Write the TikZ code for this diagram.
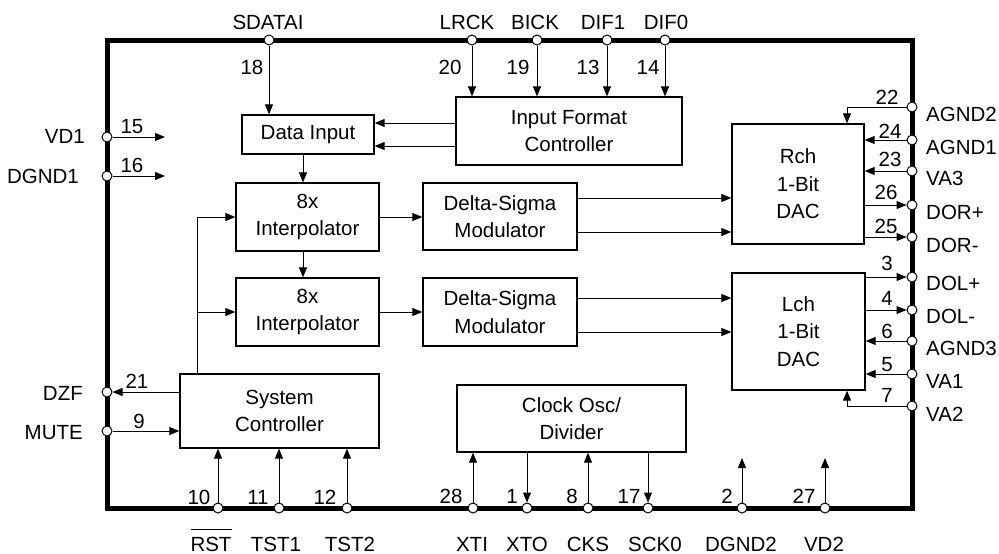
\documentclass[tikz,border=0pt]{standalone}
\usepackage{fontspec}
\setmainfont{Liberation Sans}
\usetikzlibrary{arrows.meta}
\newcommand{\diagfont}{\fontsize{20.5}{27.5}\selectfont}
\begin{document}
\begin{tikzpicture}[x=1pt,y=-1pt,
  box/.style={draw, line width=1.3pt, align=center, inner sep=0pt, font=\diagfont},
  pinc/.style={circle, draw, fill=white, line width=1pt, minimum size=10pt, inner sep=0pt},
  wire/.style={line width=1pt},
  arr/.style={wire, -{Triangle[length=10pt,width=8pt]}},
  lab/.style={font=\diagfont, inner sep=0pt},
  num/.style={font=\diagfont, inner sep=0pt, anchor=base}
]
\useasboundingbox (0,0) rectangle (999,554);
% chip border
\draw[line width=5pt] (107,40) rectangle (912,508);

% pins: top
\node[pinc] (pSD) at (269,40) {};
\node[pinc] (pLR) at (472,40) {};
\node[pinc] (pBI) at (537,40) {};
\node[pinc] (pD1) at (607,40) {};
\node[pinc] (pD0) at (665,40) {};
% pins: left
\node[pinc] (pVD1) at (107,137) {};
\node[pinc] (pDG1) at (107,176) {};
\node[pinc] (pDZF) at (107,392) {};
\node[pinc] (pMUTE) at (107,431) {};
% pins: right
\node[pinc] (pAG2) at (912,107) {};
\node[pinc] (pAG1) at (912,140) {};
\node[pinc] (pVA3) at (912,171) {};
\node[pinc] (pDORp) at (912,205) {};
\node[pinc] (pDORm) at (912,237) {};
\node[pinc] (pDOLp) at (912,277) {};
\node[pinc] (pDOLm) at (912,310) {};
\node[pinc] (pAG3) at (912,341) {};
\node[pinc] (pVA1) at (912,374) {};
\node[pinc] (pVA2) at (912,406) {};
% pins: bottom
\node[pinc] (pRST) at (218,508) {};
\node[pinc] (pT1) at (279,508) {};
\node[pinc] (pT2) at (347,508) {};
\node[pinc] (pXTI) at (473,508) {};
\node[pinc] (pXTO) at (527,508) {};
\node[pinc] (pCKS) at (588,508) {};
\node[pinc] (pSCK) at (648,508) {};
\node[pinc] (pDG2) at (742,508) {};
\node[pinc] (pVD2) at (825,508) {};

% blocks
\node[box, minimum width=132pt, minimum height=39pt] (datain) at (308,134.5) {Data Input};
\node[box, minimum width=226pt, minimum height=68pt] (ifc) at (569,131) {Input Format\\Controller};
\node[box, minimum width=143pt, minimum height=68pt] (int1) at (307.5,217) {8x\\Interpolator};
\node[box, minimum width=143pt, minimum height=68pt] (int2) at (307.5,312) {8x\\Interpolator};
\node[box, minimum width=154pt, minimum height=67pt] (ds1) at (500,216.5) {Delta-Sigma\\Modulator};
\node[box, minimum width=154pt, minimum height=68pt] (ds2) at (500,312) {Delta-Sigma\\Modulator};
\node[box, minimum width=132pt, minimum height=120pt] (dacR) at (798,184) {Rch\\1-Bit\\DAC};
\node[box, minimum width=133pt, minimum height=117pt] (dacL) at (798.5,331.5) {Lch\\1-Bit\\DAC};
\node[box, minimum width=199pt, minimum height=74pt] (sysc) at (279.5,411) {System\\Controller};
\node[box, minimum width=229pt, minimum height=67pt] (clk) at (571.5,418.5) {Clock Osc/\\Divider};

% free ends
\coordinate (eVD1) at (165,137);
\coordinate (eDG1) at (165,176);
\coordinate (eDG2) at (742,458);
\coordinate (eVD2) at (825,458);

% top connections
\draw[arr] (pSD) -- (pSD |- datain.north);
\draw[arr] (pLR) -- (pLR |- ifc.north);
\draw[arr] (pBI) -- (pBI |- ifc.north);
\draw[arr] (pD1) -- (pD1 |- ifc.north);
\draw[arr] (pD0) -- (pD0 |- ifc.north);
\draw[arr] (ifc.west |- 0,123) -- (datain.east |- 0,123);
\draw[arr] (ifc.west |- 0,146) -- (datain.east |- 0,146);
% data path
\draw[arr] (datain.south -| 303,0) -- (int1.north -| 303,0);
\draw[arr] (int1.south -| 303,0) -- (int2.north -| 303,0);
\draw[arr] (int1.east) -- (int1.east -| ds1.west);
\draw[arr] (int2.east) -- (int2.east -| ds2.west);
\draw[arr] (sysc.north -| 197,0) |- (int1.west);
\draw[arr] (int2.west -| 197,0) -- (int2.west);
\draw[arr] (ds1.east |- 0,198) -- (dacR.west |- 0,198);
\draw[arr] (ds1.east |- 0,232) -- (dacR.west |- 0,232);
\draw[arr] (ds2.east |- 0,298) -- (dacL.west |- 0,298);
\draw[arr] (ds2.east |- 0,332) -- (dacL.west |- 0,332);
% right side
\draw[arr] (pAG2) -| (dacR.north -| 847,0);
\draw[arr] (pAG1) -- (pAG1 -| dacR.east);
\draw[arr] (pVA3) -- (pVA3 -| dacR.east);
\draw[arr] (dacR.east |- pDORp) -- (pDORp);
\draw[arr] (dacR.east |- pDORm) -- (pDORm);
\draw[arr] (dacL.east |- pDOLp) -- (pDOLp);
\draw[arr] (dacL.east |- pDOLm) -- (pDOLm);
\draw[arr] (pAG3) -- (pAG3 -| dacL.east);
\draw[arr] (pVA1) -- (pVA1 -| dacL.east);
\draw[arr] (pVA2) -| (dacL.south -| 847,0);
% left side
\draw[arr] (pVD1) -- (eVD1);
\draw[arr] (pDG1) -- (eDG1);
\draw[arr] (sysc.west |- pDZF) -- (pDZF);
\draw[arr] (pMUTE) -- (pMUTE -| sysc.west);
% bottom
\draw[arr] (pRST) -- (pRST |- sysc.south);
\draw[arr] (pT1) -- (pT1 |- sysc.south);
\draw[arr] (pT2) -- (pT2 |- sysc.south);
\draw[arr] (pXTI) -- (pXTI |- clk.south);
\draw[arr] (pXTO |- clk.south) -- (pXTO);
\draw[arr] (pCKS) -- (pCKS |- clk.south);
\draw[arr] (pSCK |- clk.south) -- (pSCK);
\draw[arr] (pDG2) -- (eDG2);
\draw[arr] (pVD2) -- (eVD2);

% pin names: top
\node[lab, anchor=base] (lSD) at (268,29) {SDATAI};
\node[lab, anchor=base] (lLR) at (467,29) {LRCK};
\node[lab, anchor=base] (lBI) at (535,29) {BICK};
\node[lab, anchor=base] (lD1) at (603,29) {DIF1};
\node[lab, anchor=base] (lD0) at (666,29) {DIF0};
% left
\node[lab, anchor=base east] (lVD1) at (85,143) {VD1};
\node[lab, anchor=base east] (lDG1) at (79,183) {DGND1};
\node[lab, anchor=base east] (lDZF) at (83,400) {DZF};
\node[lab, anchor=base east] (lMUTE) at (83,439) {MUTE};
% right
\node[lab, anchor=base west] (lAG2) at (926,121) {AGND2};
\node[lab, anchor=base west] (lAG1) at (926,154) {AGND1};
\node[lab, anchor=base west] (lVA3) at (926,185) {VA3};
\node[lab, anchor=base west] (lDORp) at (926,219) {DOR+};
\node[lab, anchor=base west] (lDORm) at (926,252) {DOR-};
\node[lab, anchor=base west] (lDOLp) at (926,290) {DOL+};
\node[lab, anchor=base west] (lDOLm) at (926,323) {DOL-};
\node[lab, anchor=base west] (lAG3) at (926,355) {AGND3};
\node[lab, anchor=base west] (lVA1) at (926,388) {VA1};
\node[lab, anchor=base west] (lVA2) at (926,421) {VA2};
% bottom
\node[lab, anchor=base] (lRST) at (211,551) {\rlap{\raisebox{21pt}{\rule{41pt}{0.9pt}}}RST};
\node[lab, anchor=base] (lT1) at (276,551) {TST1};
\node[lab, anchor=base] (lT2) at (350,551) {TST2};
\node[lab, anchor=base] (lXTI) at (472,551) {XTI};
\node[lab, anchor=base] (lXTO) at (527,551) {XTO};
\node[lab, anchor=base] (lCKS) at (588,551) {CKS};
\node[lab, anchor=base] (lSCK) at (655,551) {SCK0};
\node[lab, anchor=base] (lDG2) at (741,551) {DGND2};
\node[lab, anchor=base] (lVD2) at (824,551) {VD2};

% pin numbers
\node[num] (n18) at (252,74) {18};
\node[num] (n20) at (450,74) {20};
\node[num] (n19) at (518,74) {19};
\node[num] (n13) at (588,74) {13};
\node[num] (n14) at (648,74) {14};
\node[num] (n15) at (132,133) {15};
\node[num] (n16) at (132,172) {16};
\node[num] (n21) at (137,388) {21};
\node[num] (n9) at (139,428) {9};
\node[num] (n22) at (887,104) {22};
\node[num] (n24) at (890,138) {24};
\node[num] (n23) at (890,166) {23};
\node[num] (n26) at (886,199) {26};
\node[num] (n25) at (886,233) {25};
\node[num] (n3) at (887,270) {3};
\node[num] (n4) at (887,305) {4};
\node[num] (n6) at (887,338) {6};
\node[num] (n5) at (887,371) {5};
\node[num] (n7) at (887,402) {7};
\node[num] (n10) at (199,504) {10};
\node[num] (n11) at (258,504) {11};
\node[num] (n12) at (325,504) {12};
\node[num] (n28) at (451,503) {28};
\node[num] (n1) at (512,503) {1};
\node[num] (n8) at (572,503) {8};
\node[num] (n17) at (629,503) {17};
\node[num] (n2) at (727,503) {2};
\node[num] (n27) at (804,503) {27};
\end{tikzpicture}
\end{document}
